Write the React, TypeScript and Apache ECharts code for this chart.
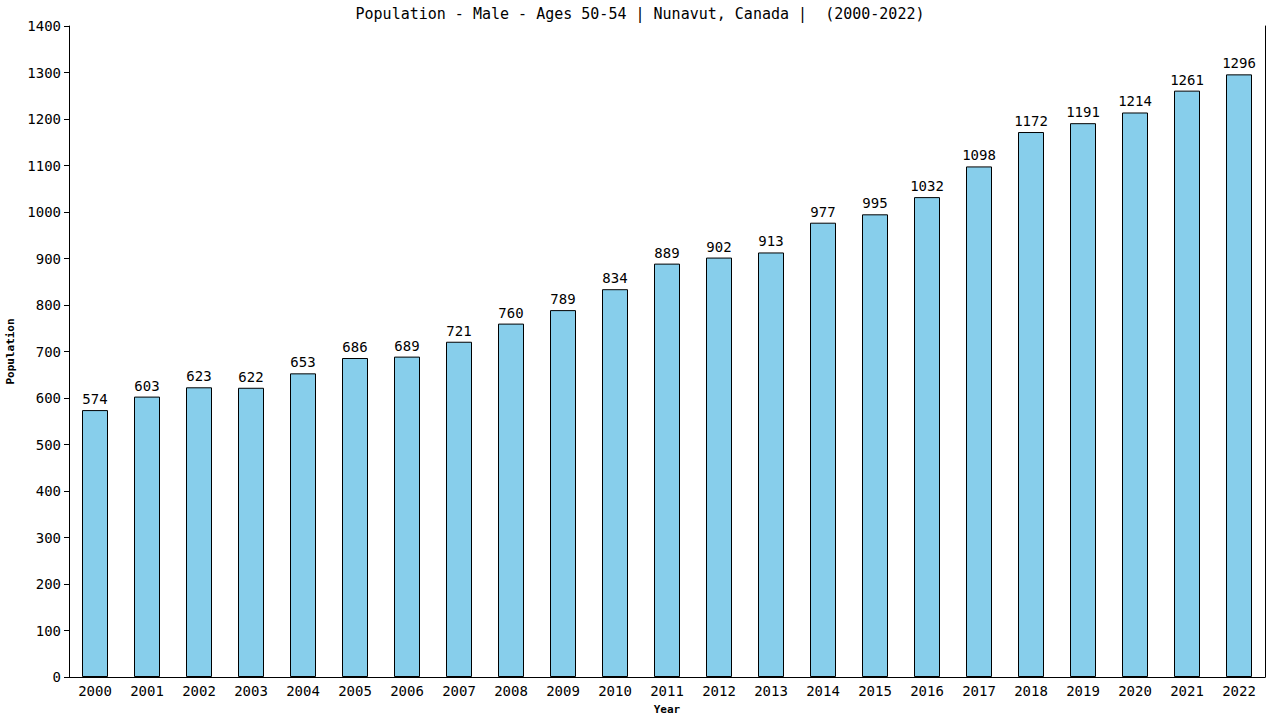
import { useEffect, useRef } from 'react'
import * as echarts from 'echarts'

const MONO = "'DejaVu Sans Mono', 'Liberation Mono', monospace"

const TITLE = 'Population - Male - Ages 50-54 | Nunavut, Canada |  (2000-2022)'

const years = [
  '2000', '2001', '2002', '2003', '2004', '2005', '2006', '2007', '2008', '2009', '2010', '2011',
  '2012', '2013', '2014', '2015', '2016', '2017', '2018', '2019', '2020', '2021', '2022',
]

const population = [
  574, 603, 623, 622, 653, 686, 689, 721, 760, 789, 834, 889,
  902, 913, 977, 995, 1032, 1098, 1172, 1191, 1214, 1261, 1296,
]

function buildOption(): echarts.EChartsOption {
  return {
    animation: false,
    backgroundColor: '#ffffff',
    textStyle: { fontFamily: MONO, color: '#000' },
    title: {
      text: TITLE,
      left: 'center',
      top: 1,
      textStyle: { fontFamily: MONO, fontSize: 15, fontWeight: 'normal', color: '#000' },
    },
    grid: {
      left: 69,
      right: 15,
      top: 26,
      bottom: 43,
      containLabel: false,
      outerBoundsMode: 'none',
    } as any,
    xAxis: {
      type: 'category',
      data: years,
      name: 'Year',
      nameLocation: 'middle',
      nameGap: 27,
      nameTextStyle: { fontFamily: MONO, fontSize: 11, fontWeight: 'bold', color: '#000' },
      axisLine: { lineStyle: { color: '#000', width: 1 } },
      axisTick: { show: false },
      axisLabel: { color: '#000', fontSize: 14, fontFamily: MONO, margin: 7 },
      splitLine: { show: false },
    },
    yAxis: [
      {
        type: 'value',
        min: 0,
        max: 1400,
        interval: 100,
        name: 'Population',
        nameLocation: 'middle',
        nameGap: 51,
        nameTextStyle: { fontFamily: MONO, fontSize: 11, fontWeight: 'bold', color: '#000' },
        axisLine: { show: true, lineStyle: { color: '#000', width: 1 } },
        axisTick: { show: true, length: 5, lineStyle: { color: '#000' } },
        axisLabel: {
          color: '#000',
          fontSize: 14,
          fontFamily: MONO,
          margin: 8,
          formatter: (v: number) => String(v),
        },
        splitLine: { show: false },
      },
      {
        type: 'value',
        min: 0,
        max: 1400,
        interval: 100,
        position: 'right',
        axisLine: { show: true, lineStyle: { color: '#000', width: 1 } },
        axisTick: { show: false },
        axisLabel: { show: false },
        splitLine: { show: false },
      },
    ],
    series: [
      {
        type: 'bar',
        data: population,
        barWidth: '50%',
        itemStyle: {
          color: '#87CEEB',
          borderColor: '#000',
          borderWidth: 1,
        },
        label: {
          show: true,
          position: 'top',
          distance: 4,
          color: '#000',
          fontSize: 14,
          fontFamily: MONO,
        },
      },
    ],
  }
}

export default function App() {
  const ref = useRef<HTMLDivElement>(null)

  useEffect(() => {
    const el = ref.current
    if (!el) return
    document.body.style.margin = '0'
    const chart = echarts.init(el, undefined, { renderer: 'svg' })
    chart.setOption(buildOption())
    return () => chart.dispose()
  }, [])

  return <div ref={ref} style={{ width: 1280, height: 720 }} />
}
